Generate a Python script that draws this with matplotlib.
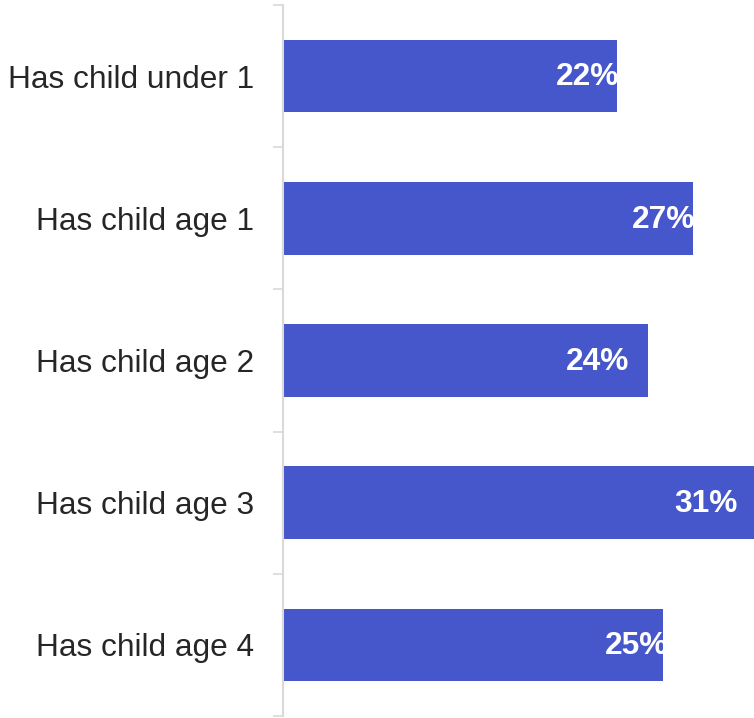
import numpy as np
import matplotlib
matplotlib.use("Agg")
import matplotlib.pyplot as plt

categories = ["Has child under 1", "Has child age 1", "Has child age 2",
              "Has child age 3", "Has child age 4"]
values = [22, 27, 24, 31, 25]
labels = ["22%", "27%", "24%", "31%", "25%"]
# label nudges (points) relative to bar end, as seen in the original
label_shift = [1.5, 1.5, -13, -12, 4]

bar_color = "#4656cb"
grey = "#d9d9d9"

plt.rcParams["font.family"] = ["Liberation Sans", "DejaVu Sans"]

fig = plt.figure(figsize=(7.54, 7.18), dpi=100)
ax = fig.add_axes([283 / 754, 1 - 716 / 718, 1 - 283 / 754, 711 / 718])

y = np.arange(len(categories))
bars = ax.barh(y, values, height=0.51, color=bar_color)

ax.set_xlim(0, 31)
ax.set_ylim(len(categories) - 0.5, -0.5)

for bar, lab, dx in zip(bars, labels, label_shift):
    t = ax.annotate(lab, (bar.get_width(), bar.get_y() + bar.get_height() / 2),
                    xytext=(dx, -1), textcoords="offset points",
                    ha="right", va="center", color="white",
                    fontsize=22.8, fontweight="bold")
    t.set_clip_path(bar)

ax.set_yticks(y)
ax.set_yticklabels(categories, fontsize=22.8, color="#262626")
ax.tick_params(axis="y", which="major", length=0, pad=21)
ax.set_yticks(np.arange(-0.5, len(categories)), minor=True)
ax.tick_params(axis="y", which="minor", length=7.5, width=1.2, color=grey)
ax.set_xticks([])

for s in ["top", "right", "bottom"]:
    ax.spines[s].set_visible(False)
ax.spines["left"].set_color(grey)
ax.spines["left"].set_linewidth(1.5)

fig.savefig("out.png", dpi=100)
